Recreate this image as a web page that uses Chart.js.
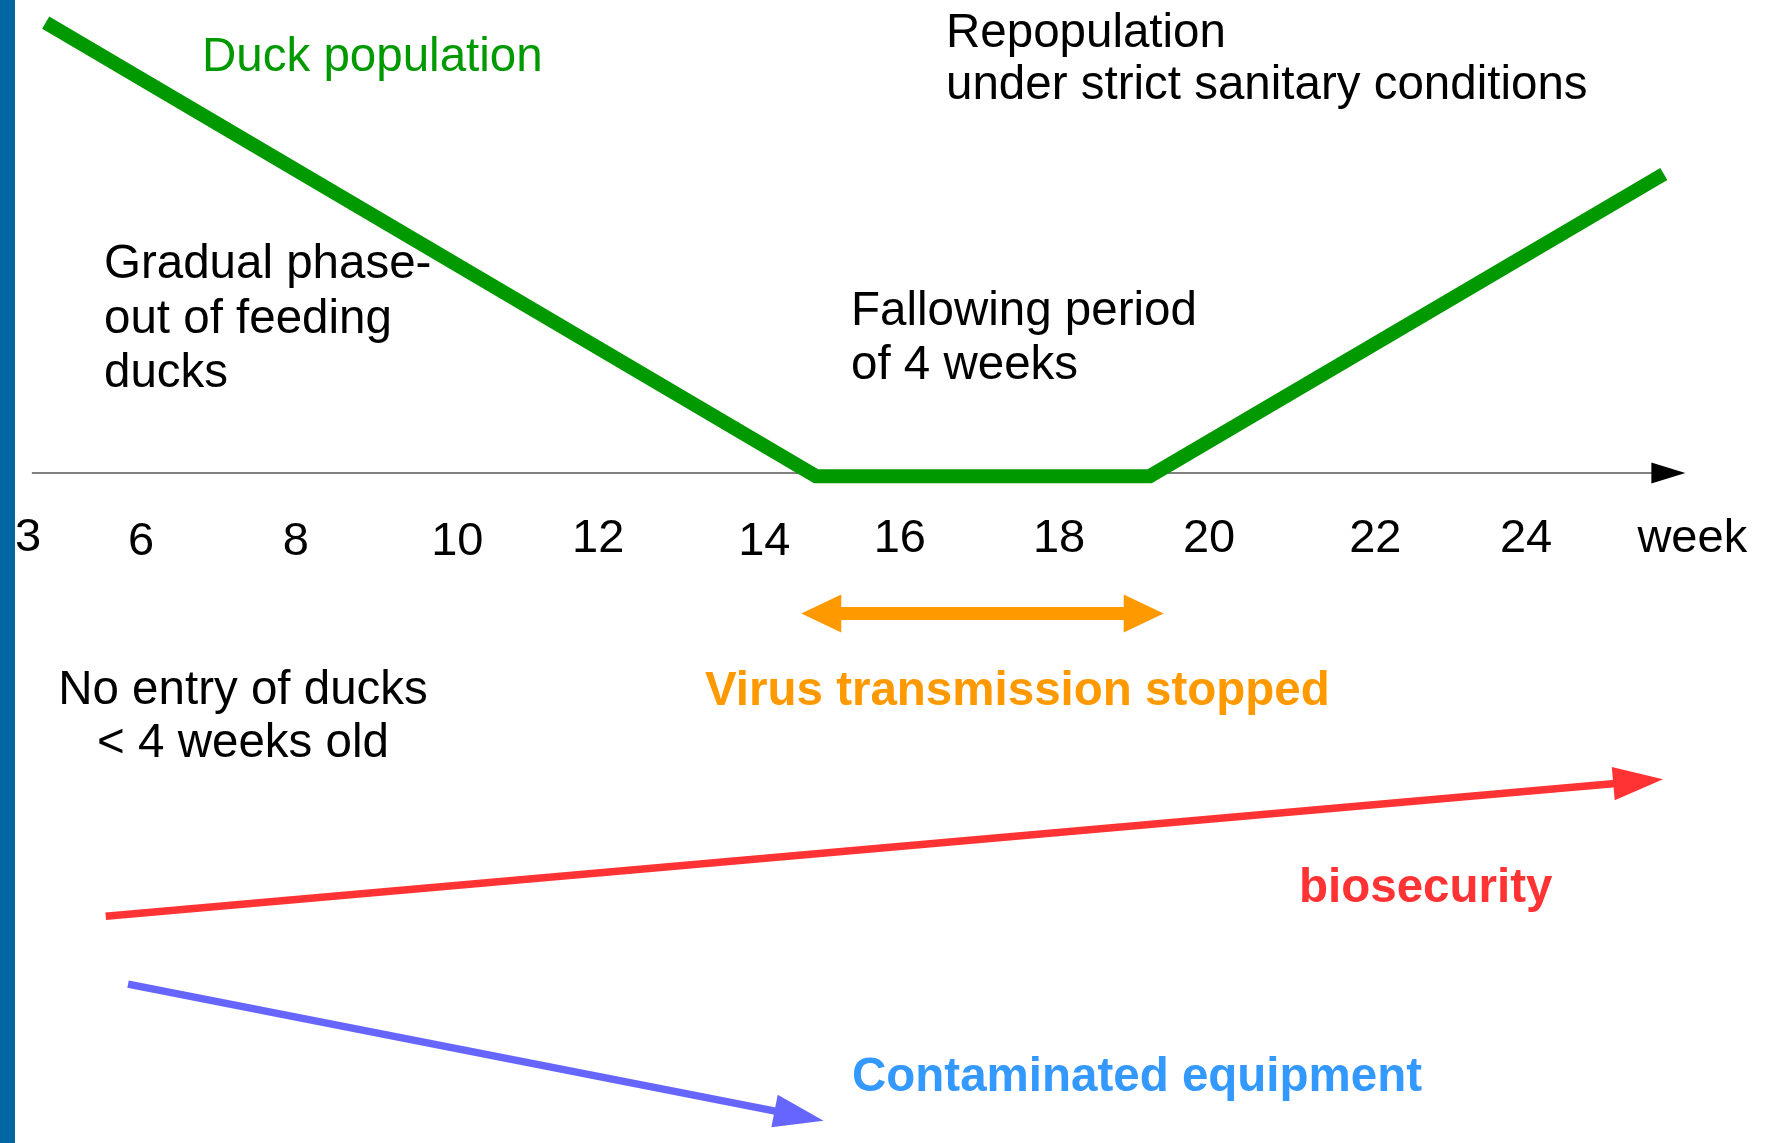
<!DOCTYPE html>
<html>
<head>
<meta charset="utf-8">
<script src="https://cdn.jsdelivr.net/npm/chart.js@4"></script>
<style>
  html, body { margin: 0; padding: 0; background: #ffffff; }
  #wrap { width: 1770px; height: 1143px; position: relative; }
</style>
</head>
<body>
<div id="wrap"><canvas id="c"></canvas></div>
<script>
// ---- data (weeks on x, relative level on y; 0 = the time axis) ----
const tickWeeks  = [4.53, 6.0, 8.01, 10.11, 11.94, 14.10, 15.86, 17.93, 19.88, 22.04, 24.0, 26.16];
const tickLabels = ['3', '6', '8', '10', '12', '14', '16', '18', '20', '22', '24', 'week'];

const duckWeeks  = [4.76, 14.77, 19.11, 25.79];
const duckValues = [100, -0.7, -0.7, 66.4];

const bioWeeks   = [5.54, 25.78];
const bioValues  = [-98.4, -68.0];

const equipWeeks  = [5.83, 14.87];
const equipValues = [-113.5, -143.8];

const virusWeeks  = [14.58, 19.29];
const virusValues = [-31.2, -31.2];

const axisWeeks = [4.58, 26.07];

// ---- scale ranges ----
const xMin = 4.166, xMax = 27.17, yMin = -148.76, yMax = 105.02;

// ---- layout / style (not data) ----
const FONT = '"Liberation Sans", Arial, Helvetica, sans-serif';
const tickBaselineShift = [-4, 0, 0, 0, -3.3, 0, -3.3, -3.3, -3.3, -3.3, -3.3, -2.7];

const texts = [
  { t: 'Duck population', x: 202, y: 70.5, c: '#009900', w: 'normal', a: 'left' },
  { t: 'Repopulation', x: 946, y: 46.7, c: '#000000', w: 'normal', a: 'left' },
  { t: 'under strict sanitary conditions', x: 946, y: 99.3, c: '#000000', w: 'normal', a: 'left' },
  { t: 'Gradual phase-', x: 104, y: 278, c: '#000000', w: 'normal', a: 'left' },
  { t: 'out of feeding', x: 104, y: 333, c: '#000000', w: 'normal', a: 'left' },
  { t: 'ducks', x: 104, y: 387, c: '#000000', w: 'normal', a: 'left' },
  { t: 'Fallowing period', x: 851, y: 325, c: '#000000', w: 'normal', a: 'left' },
  { t: 'of 4 weeks', x: 851, y: 379, c: '#000000', w: 'normal', a: 'left' },
  { t: 'No entry of ducks', x: 243, y: 704, c: '#000000', w: 'normal', a: 'center' },
  { t: '< 4 weeks old', x: 243, y: 757, c: '#000000', w: 'normal', a: 'center' },
  { t: 'Virus transmission stopped', x: 705, y: 705, c: '#ff9900', w: 'bold', a: 'left' },
  { t: 'biosecurity', x: 1299, y: 902, c: '#ff3333', w: 'bold', a: 'left' },
  { t: 'Contaminated equipment', x: 852, y: 1091, c: '#3399ff', w: 'bold', a: 'left' }
];

function pts(xs, ys) { return xs.map((x, i) => ({ x: x, y: ys[i] })); }

function arrowHead(ctx, tx, ty, ang, len, half, color) {
  ctx.save();
  ctx.translate(tx, ty);
  ctx.rotate(ang);
  ctx.beginPath();
  ctx.moveTo(0, 0);
  ctx.lineTo(-len, -half);
  ctx.lineTo(-len, half);
  ctx.closePath();
  ctx.fillStyle = color;
  ctx.fill();
  ctx.restore();
}

function drawArrow(ctx, p1, p2, color, width, len, half, double) {
  const ang = Math.atan2(p2.y - p1.y, p2.x - p1.x);
  const cs = Math.cos(ang), sn = Math.sin(ang);
  const sx = double ? p1.x + cs * (len - 2) : p1.x;
  const sy = double ? p1.y + sn * (len - 2) : p1.y;
  const ex = p2.x - cs * (len - 2), ey = p2.y - sn * (len - 2);
  ctx.save();
  ctx.strokeStyle = color;
  ctx.lineWidth = width;
  ctx.lineCap = 'butt';
  ctx.beginPath();
  ctx.moveTo(sx, sy);
  ctx.lineTo(ex, ey);
  ctx.stroke();
  ctx.restore();
  arrowHead(ctx, p2.x, p2.y, ang, len, half, color);
  if (double) arrowHead(ctx, p1.x, p1.y, ang + Math.PI, len, half, color);
}

const diagram = {
  id: 'diagram',
  beforeDatasetsDraw(chart) {
    const ctx = chart.ctx, xs = chart.scales.x, ys = chart.scales.y;
    // left blue bar
    ctx.save();
    ctx.fillStyle = '#0067a3';
    ctx.fillRect(0, 0, 15, chart.height);
    // time axis
    const y0 = ys.getPixelForValue(0);
    const ax0 = xs.getPixelForValue(axisWeeks[0]);
    const ax1 = xs.getPixelForValue(axisWeeks[1]);
    ctx.strokeStyle = '#808080';
    ctx.lineWidth = 2;
    ctx.beginPath();
    ctx.moveTo(ax0, y0);
    ctx.lineTo(ax1 - 30, y0);
    ctx.stroke();
    ctx.restore();
    arrowHead(ctx, ax1, y0, 0, 34, 10.5, '#000000');
  },
  afterDatasetsDraw(chart) {
    const ctx = chart.ctx, xs = chart.scales.x, ys = chart.scales.y;
    const y0 = ys.getPixelForValue(0);
    // arrows built from dataset points
    const m1 = chart.getDatasetMeta(1).data;
    drawArrow(ctx, m1[0], m1[1], '#ff3333', 7.5, 50, 16.7, false);
    const m2 = chart.getDatasetMeta(2).data;
    drawArrow(ctx, m2[0], m2[1], '#6666ff', 7.5, 50, 16.5, false);
    const m3 = chart.getDatasetMeta(3).data;
    drawArrow(ctx, m3[0], m3[1], '#ff9900', 13, 40, 19, true);
    // tick labels
    ctx.save();
    ctx.fillStyle = '#000000';
    ctx.font = '47px ' + FONT;
    ctx.textAlign = 'center';
    ctx.textBaseline = 'alphabetic';
    tickWeeks.forEach((w, i) => {
      ctx.fillText(tickLabels[i], xs.getPixelForValue(w), y0 + 82 + tickBaselineShift[i]);
    });
    // annotations
    texts.forEach(o => {
      ctx.font = o.w + ' 47.5px ' + FONT;
      ctx.fillStyle = o.c;
      ctx.textAlign = o.a;
      ctx.fillText(o.t, o.x, o.y);
    });
    ctx.restore();
  }
};

new Chart(document.getElementById('c'), {
  type: 'line',
  data: {
    datasets: [
      { label: 'Duck population', data: pts(duckWeeks, duckValues), borderColor: '#009900',
        borderWidth: 14, borderJoinStyle: 'miter', borderCapStyle: 'butt', pointRadius: 0, tension: 0, fill: false },
      { label: 'biosecurity', data: pts(bioWeeks, bioValues), borderColor: '#ff3333',
        showLine: false, pointRadius: 0 },
      { label: 'Contaminated equipment', data: pts(equipWeeks, equipValues), borderColor: '#6666ff',
        showLine: false, pointRadius: 0 },
      { label: 'Virus transmission stopped', data: pts(virusWeeks, virusValues), borderColor: '#ff9900',
        showLine: false, pointRadius: 0 }
    ]
  },
  options: {
    responsive: true,
    maintainAspectRatio: false,
    devicePixelRatio: 1,
    animation: false,
    layout: { padding: 0 },
    plugins: { legend: { display: false }, tooltip: { enabled: false }, title: { display: false } },
    events: [],
    scales: {
      x: { type: 'linear', min: xMin, max: xMax, display: false },
      y: { type: 'linear', min: yMin, max: yMax, display: false }
    }
  },
  plugins: [diagram]
});
</script>
</body>
</html>
